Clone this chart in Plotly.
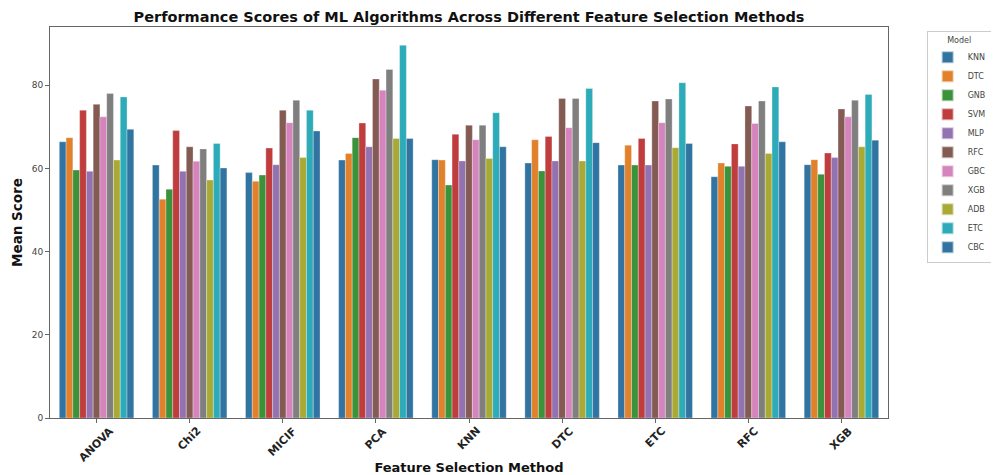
import plotly.graph_objects as go

methods = ["ANOVA", "Chi2", "MICIF", "PCA", "KNN", "DTC", "ETC", "RFC", "XGB"]
models = ["KNN", "DTC", "GNB", "SVM", "MLP", "RFC", "GBC", "XGB", "ADB", "ETC", "CBC"]
colors = ["#3274a1", "#e1812c", "#3a923a", "#c03d3e", "#9372b2", "#845b53",
          "#d684bd", "#7f7f7f", "#a9aa35", "#2eabb8", "#3274a1"]

# scores per model, across methods (ANOVA..XGB)
knn = [66.4, 60.8, 59.0, 62.0, 62.1, 61.3, 60.8, 58.0, 60.9]
dtc = [67.4, 52.6, 56.9, 63.6, 62.0, 66.9, 65.6, 61.3, 62.1]
gnb = [59.6, 55.0, 58.4, 67.4, 56.0, 59.4, 60.8, 60.5, 58.6]
svm = [74.0, 69.1, 64.9, 70.9, 68.2, 67.7, 67.2, 65.9, 63.7]
mlp = [59.3, 59.3, 60.9, 65.2, 61.8, 61.8, 60.8, 60.5, 62.6]
rfc = [75.4, 65.2, 74.0, 81.5, 70.4, 76.8, 76.2, 75.0, 74.3]
gbc = [72.4, 61.7, 71.0, 78.8, 66.9, 69.8, 71.0, 70.8, 72.4]
xgb = [78.0, 64.7, 76.4, 83.8, 70.4, 76.8, 76.7, 76.2, 76.4]
adb = [62.0, 57.2, 62.6, 67.2, 62.4, 61.8, 65.0, 63.6, 65.2]
etc = [77.2, 66.0, 74.0, 89.6, 73.4, 79.2, 80.6, 79.6, 77.8]
cbc = [69.4, 60.1, 69.0, 67.2, 65.2, 66.2, 66.0, 66.4, 66.8]

series = [knn, dtc, gnb, svm, mlp, rfc, gbc, xgb, adb, etc, cbc]

fig = go.Figure()
for name, vals, col in zip(models, series, colors):
    fig.add_trace(go.Bar(x=methods, y=vals, name=name, marker_color=col,
                         marker_line_width=0.5, marker_line_color="rgba(255,255,255,0.6)"))

# rotated category labels, centred on their ticks (matplotlib style)
for m in methods:
    fig.add_annotation(x=m, y=0, xref="x", yref="y", text="<b>" + m + "</b>",
                       textangle=-45, showarrow=False, xanchor="center", yanchor="top",
                       yshift=-4, font=dict(family="DejaVu Sans", size=11, color="#222"))

axis_font = dict(family="DejaVu Sans", size=9, color="#444")
fig.update_layout(
    width=991, height=467,
    margin=dict(l=42, r=111, t=19, b=57, autoexpand=False),
    paper_bgcolor="white", plot_bgcolor="white",
    barmode="group", bargap=0.2, bargroupgap=0,
    title=dict(text="<b>Performance Scores of ML Algorithms Across Different Feature Selection Methods</b>",
               x=0.5, xref="paper", xanchor="center", y=0.981, yanchor="middle",
               font=dict(family="DejaVu Sans", size=14.5, color="#111")),
    legend=dict(title=dict(text="Model", side="top center", font=dict(family="DejaVu Sans", size=8, color="#444")),
                xref="container", yref="container",
                x=0.927, xanchor="left", y=0.95, yanchor="top",
                font=dict(family="DejaVu Sans", size=8, color="#444"),
                bordercolor="#ccc", borderwidth=1, bgcolor="white",
                itemsizing="constant", itemwidth=30, tracegroupgap=0),
    font=dict(family="DejaVu Sans"),
)
fig.update_xaxes(
    showline=True, mirror=True, linecolor="#666", linewidth=1,
    ticks="outside", ticklen=4, tickcolor="#666",
    showticklabels=False, automargin=False,
    title=dict(text="<b>Feature Selection Method</b>", font=dict(family="DejaVu Sans", size=13, color="#111"), standoff=44),
    showgrid=False,
)
fig.update_yaxes(
    range=[0, 94], tickvals=[0, 20, 40, 60, 80],
    showline=True, mirror=True, linecolor="#666", linewidth=1,
    ticks="outside", ticklen=4, tickcolor="#666", automargin=False,
    tickfont=axis_font, showgrid=False, zeroline=False,
    title=dict(text="<b>Mean Score</b>", font=dict(family="DejaVu Sans", size=13.5, color="#111"), standoff=6),
)

fig.write_html("out.html")
